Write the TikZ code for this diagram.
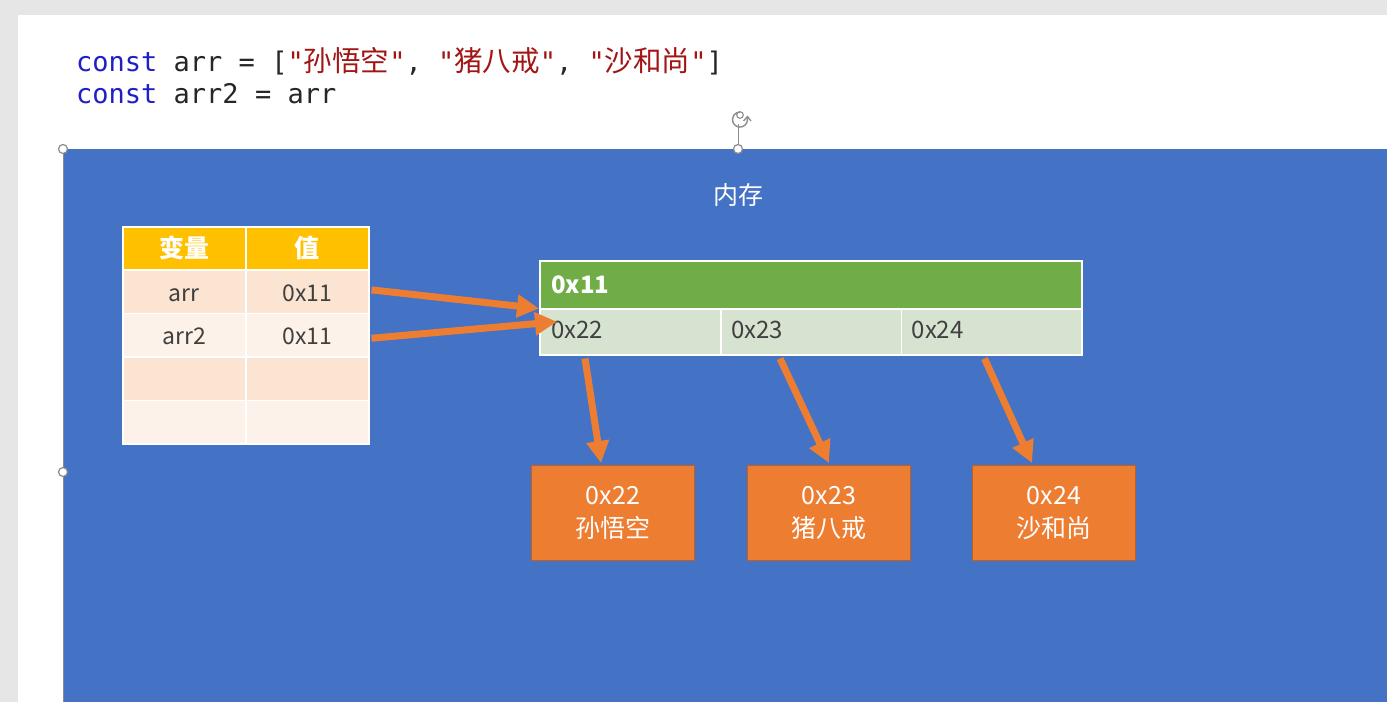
\documentclass[tikz,border=0pt]{standalone}
\usepackage{fontspec}
\usetikzlibrary{arrows.meta,calc}
\newfontfamily\cjk{Noto Sans CJK SC}
\newfontfamily\codefont{DejaVu Sans Mono}
\definecolor{pagegray}{HTML}{E6E6E6}
\definecolor{memblue}{HTML}{4472C4}
\definecolor{morange}{HTML}{ED7D31}
\definecolor{morangeD}{HTML}{C0601F}
\definecolor{mgreen}{HTML}{70AD47}
\definecolor{lgreen}{HTML}{D6E3D0}
\definecolor{hdryellow}{HTML}{FFC000}
\definecolor{peach}{HTML}{FBE4D2}
\definecolor{lpeach}{HTML}{FDF2E9}
\definecolor{darktext}{HTML}{404040}
\definecolor{kwblue}{HTML}{1F1FC8}
\definecolor{strred}{HTML}{A31515}
\definecolor{handlegray}{HTML}{8C8C8C}
\tikzset{
  cell/.style={draw=white, line width=1.5pt, minimum width=123pt, minimum height=43.4pt, inner sep=0pt, anchor=north west, font=\cjk\fontsize{23}{23}\selectfont, text=darktext, text height=21pt, text depth=2pt},
  hcell/.style={cell, fill=hdryellow, text=white, font=\cjk\bfseries\fontsize{25}{25}\selectfont, text height=20pt, text depth=2pt},
  acell/.style={draw=white, line width=1.5pt, fill=lgreen, minimum width=180.7pt, minimum height=46pt, inner sep=0pt, anchor=north west},
  atext/.style={anchor=west, inner sep=0pt, font=\cjk\fontsize{24}{24}\selectfont, text=darktext},
  objbox/.style={draw=morangeD, line width=1pt, fill=morange, minimum width=163pt, minimum height=95pt, anchor=north west, align=center, text=white, font=\cjk\fontsize{25}{33}\selectfont},
  ptr/.style={draw=morange, line width=7pt, -{Triangle[length=22pt,width=22pt]}},
  handle/.style={circle, draw=handlegray, fill=white, line width=1.2pt, minimum size=9pt, inner sep=0pt},
  codeline/.style={anchor=base west, inner sep=0pt, font=\codefont\fontsize{27}{27}\selectfont, text=black!85},
}
\newcommand{\cz}[1]{{\cjk\fontsize{28.5}{28}\selectfont #1}}
\begin{document}
\begin{tikzpicture}[x=1pt,y=-1pt]
\useasboundingbox (0,0) rectangle (1387,702);
% page background
\fill[pagegray] (0,0) rectangle (1387,702);
\fill[white] (18,15) rectangle (1387,702);
% code
\node[codeline] (code1) at (76,71) {\textcolor{kwblue}{const} arr = [\textcolor{strred}{"\cz{孙悟空}"}, \textcolor{strred}{"\cz{猪八戒}"}, \textcolor{strred}{"\cz{沙和尚}"}]};
\node[codeline] (code2) at (76,103) {\textcolor{kwblue}{const} arr2 = arr};
% memory area
\fill[memblue] (63,149) rectangle (1387,702);
\draw[handlegray, line width=0.8pt] (63,149) -- (63,702);
\node[text=white, font=\cjk\fontsize{25}{25}\selectfont] (mem) at (738,195) {内存};
% table
\node[hcell] (h1) at (122,226) {变量};
\node[hcell] (h2) at (245,226) {值};
\node[cell, fill=peach] (n1) at (122,269.4) {arr};
\node[cell, fill=peach] (v1) at (245,269.4) {0x11};
\node[cell, fill=lpeach] (n2) at (122,312.8) {arr2};
\node[cell, fill=lpeach] (v2) at (245,312.8) {0x11};
\node[cell, fill=peach] (n3) at (122,356.2) {};
\node[cell, fill=peach] (v3) at (245,356.2) {};
\node[cell, fill=lpeach] (n4) at (122,399.6) {};
\node[cell, fill=lpeach] (v4) at (245,399.6) {};
% array object
\node[draw=white, line width=1.5pt, fill=mgreen, minimum width=542pt, minimum height=48pt, anchor=north west, inner sep=0pt] (hdr) at (539,260) {};
\node[anchor=west, inner sep=0pt, text=white, font=\cjk\bfseries\fontsize{24}{24}\selectfont] (hdrt) at ($(hdr.west)+(12,0)$) {0x11};
\node[acell] (c1) at (539,308) {};
\node[acell] (c2) at (720,308) {};
\node[acell] (c3) at (900.5,308) {};
\node[atext] (c1t) at ($(c1.west)+(12,-2)$) {0x22};
\node[atext] (c2t) at ($(c2.west)+(11,-2)$) {0x23};
\node[atext] (c3t) at ($(c3.west)+(11,-2)$) {0x24};
% value boxes
\node[objbox] (o1) at (531,465) {0x22\\孙悟空};
\node[objbox] (o2) at (747,465) {0x23\\猪八戒};
\node[objbox] (o3) at (972,465) {0x24\\沙和尚};
% pointers
\draw[ptr] ($(v1.east)+(2,-2)$) -- ($(hdr.south west)+(0,-1)$);
\draw[ptr] ($(v2.east)+(2,3)$) -- ($(c1.west)+(18,-10)$);
\draw[ptr] ($(c1.south west)+(46,3)$) -- ($(o1.north)+(-12,-2)$);
\draw[ptr] ($(c2.south west)+(60,3)$) -- ($(o2.north)+(0,-2)$);
\draw[ptr] ($(c3.south west)+(84,3)$) -- ($(o3.north)+(-22,-2)$);
% selection handles
\coordinate (rot) at (738,124);
\draw[handlegray, line width=0.8pt] (738,149) -- (rot);
\node[handle] (hA) at (63,149) {};
\node[handle] (hB) at (738,149) {};
\node[handle] (hC) at (63,472) {};
\draw[handlegray, line width=1.4pt] (747,117) arc[start angle=-20, end angle=270, radius=7.5];
\draw[handlegray, line width=1.1pt] (740,115) circle[radius=3.3];
\draw[handlegray, line width=1.3pt] (743.5,121) -- (747.5,116.5) -- (751,121);
\end{tikzpicture}
\end{document}
